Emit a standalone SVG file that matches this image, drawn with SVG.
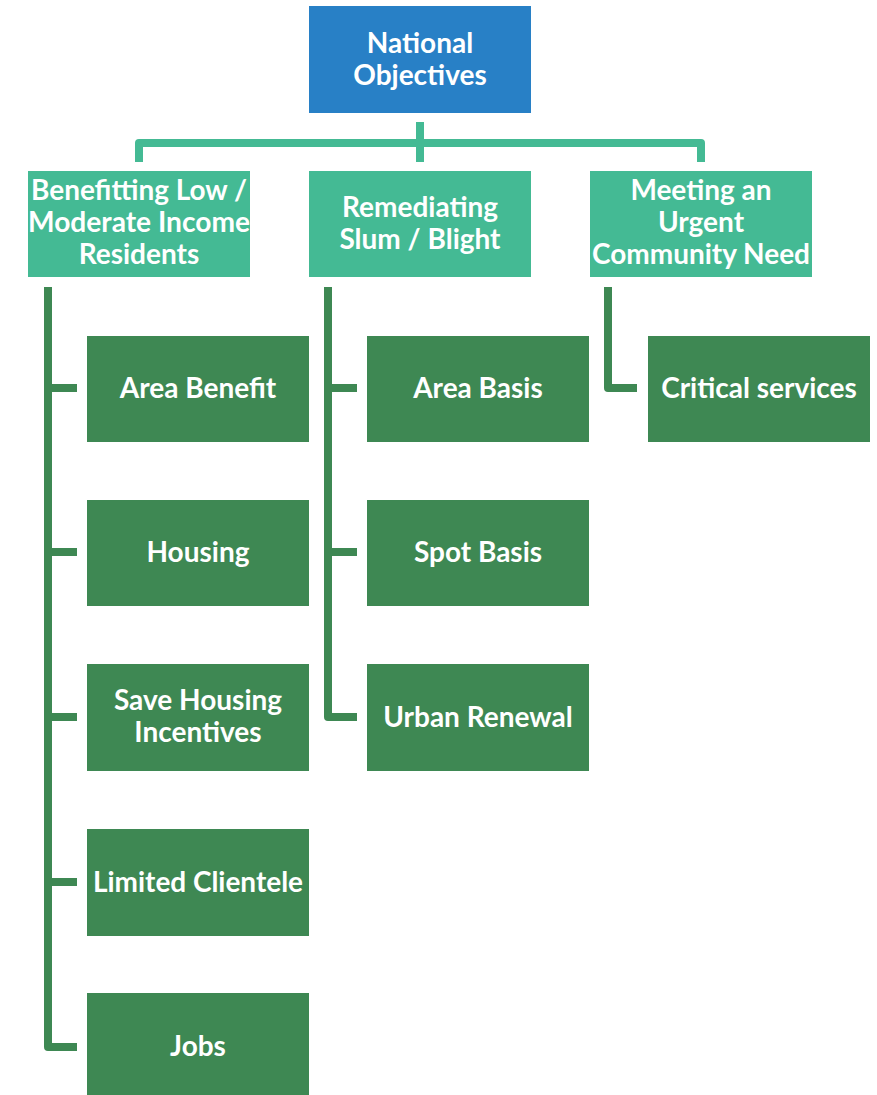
<svg xmlns="http://www.w3.org/2000/svg" width="877" height="1095" viewBox="0 0 877 1095">
<style>
.top{fill:#2880C6;}
.l2{fill:#44BA94;}
.l3{fill:#3E8853;}
text{font-family:Lato,"Open Sans","Liberation Sans",sans-serif;font-weight:bold;fill:#fff;text-anchor:middle;font-size:28px;}
.cT{fill:none;stroke:#44BA94;stroke-width:8;stroke-linejoin:round;}
.cG{fill:none;stroke:#3E8853;stroke-width:8;stroke-linejoin:round;}
</style>
<rect width="877" height="1095" fill="#fff"/>
<g id="connectors">
<path class="cT" d="M420 122 V162 M139 162 V143 H701 V162"/>
<path class="cG" d="M48 287 V1047 H77 M48 388 H77 M48 552 H77 M48 717 H77 M48 882 H77"/>
<path class="cG" d="M328 287 V717 H357 M328 388 H357 M328 552 H357"/>
<path class="cG" d="M608 287 V388 H637"/>
</g>
<g id="n-national"><rect class="top" x="309" y="6" width="222" height="107"/><text x="420" y="53">National</text><text x="420" y="85">Objectives</text></g>
<g id="n-low"><rect class="l2" x="28" y="171" width="222" height="106"/><text x="139" y="200" textLength="216" lengthAdjust="spacingAndGlyphs">Benefitting Low /</text><text x="139" y="232" textLength="222" lengthAdjust="spacingAndGlyphs">Moderate Income</text><text x="139" y="264">Residents</text></g>
<g id="n-slum"><rect class="l2" x="309" y="171" width="222" height="106"/><text x="420" y="217">Remediating</text><text x="420" y="249">Slum / Blight</text></g>
<g id="n-urgent"><rect class="l2" x="590" y="171" width="222" height="106"/><text x="701" y="200">Meeting an</text><text x="701" y="232">Urgent</text><text x="701" y="264" textLength="218" lengthAdjust="spacingAndGlyphs">Community Need</text></g>
<g id="n-area-benefit"><rect class="l3" x="87" y="336" width="222" height="106"/><text x="198" y="398">Area Benefit</text></g>
<g id="n-housing"><rect class="l3" x="87" y="500" width="222" height="106"/><text x="198" y="562">Housing</text></g>
<g id="n-save"><rect class="l3" x="87" y="664" width="222" height="107"/><text x="198" y="710">Save Housing</text><text x="198" y="742">Incentives</text></g>
<g id="n-limited"><rect class="l3" x="87" y="829" width="222" height="107"/><text x="198" y="892" textLength="210" lengthAdjust="spacingAndGlyphs">Limited Clientele</text></g>
<g id="n-jobs"><rect class="l3" x="87" y="993" width="222" height="106"/><text x="198" y="1056">Jobs</text></g>
<g id="n-area-basis"><rect class="l3" x="367" y="336" width="222" height="106"/><text x="478" y="398">Area Basis</text></g>
<g id="n-spot"><rect class="l3" x="367" y="500" width="222" height="106"/><text x="478" y="562">Spot Basis</text></g>
<g id="n-urban"><rect class="l3" x="367" y="664" width="222" height="107"/><text x="478" y="727">Urban Renewal</text></g>
<g id="n-critical"><rect class="l3" x="648" y="336" width="222" height="106"/><text x="759" y="398">Critical services</text></g>
</svg>
